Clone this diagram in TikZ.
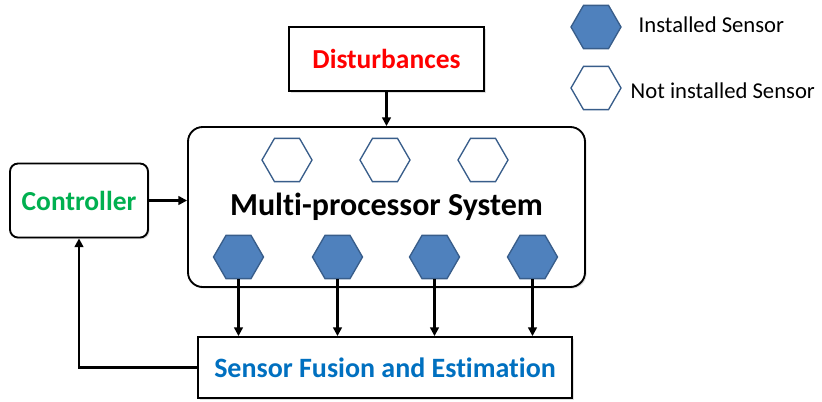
\documentclass[tikz,border=0pt]{standalone}
\usepackage{fontspec}
\setmainfont{Carlito}[Ligatures=NoCommon]
\usetikzlibrary{shapes.geometric,arrows.meta,shadows}
\definecolor{sensorfill}{HTML}{4F81BD}
\definecolor{sensorline}{HTML}{385D8A}
\definecolor{dred}{HTML}{FF0000}
\definecolor{cgreen}{HTML}{00B050}
\definecolor{fblue}{HTML}{0070C0}
\tikzset{
  block/.style={draw=black, line width=1.4pt, fill=white, inner sep=0pt,
    font=\fontsize{20.6}{24}\selectfont\bfseries,
    drop shadow={opacity=0.25, shadow xshift=1.2pt, shadow yshift=-1.2pt}},
  hexbase/.style={regular polygon, regular polygon sides=6, inner sep=0pt,
    minimum size=37.5pt, line width=1pt, draw=sensorline},
  installed/.style={hexbase, fill=sensorfill},
  notinstalled/.style={hexbase, fill=white},
  arr/.style={line width=2.1pt, -{Triangle[length=6.5pt,width=6.5pt]}},
  legendtext/.style={anchor=west, font=\fontsize{17}{20}\selectfont},
}
\begin{document}
\begin{tikzpicture}[x=0.75pt, y=-0.75pt]
\useasboundingbox (0,0) rectangle (822,401);

% blocks
\node[block, minimum width=146.25pt, minimum height=48pt, text=dred]
  (dist) at (386.5,59) {Disturbances};
\node[block, rounded corners=11pt, minimum width=297.75pt, minimum height=120pt,
  font=\fontsize{24}{28}\selectfont\bfseries]
  (main) at (386.5,207) {Multi-processor System};
\node[block, rounded corners=6pt, minimum width=103.5pt, minimum height=55.5pt, text=cgreen]
  (ctrl) at (79,200.5) {Controller};
\node[block, minimum width=280.5pt, minimum height=45.75pt, text=fblue,
  font=\fontsize{21}{25}\selectfont\bfseries]
  (fusion) at (385,367.5) {Sensor Fusion and Estimation};

% sensors inside the system
\node[notinstalled] (n1) at (287,160) {};
\node[notinstalled] (n2) at (385,160) {};
\node[notinstalled] (n3) at (483,160) {};
\node[installed] (s1) at (238.5,257) {};
\node[installed] (s2) at (337.5,257) {};
\node[installed] (s3) at (434.5,257) {};
\node[installed] (s4) at (532.5,257) {};

% connectors
\draw[arr] (dist.south) -- (main.north);
\draw[arr] (ctrl.east) -- (ctrl.east -| main.west);
\foreach \s in {s1,s2,s3,s4}
  \draw[arr] (\s.south) -- (\s.south |- fusion.north);
\draw[arr] (fusion.west) -| (ctrl.south);

% legend
\node[installed] (lgi) at (596,27) {};
\node[legendtext] (lgit) at (634,25) {Installed Sensor};
\node[notinstalled] (lgn) at (596,88) {};
\node[legendtext] (lgnt) at (626,91) {Not installed Sensor};
\end{tikzpicture}
\end{document}
